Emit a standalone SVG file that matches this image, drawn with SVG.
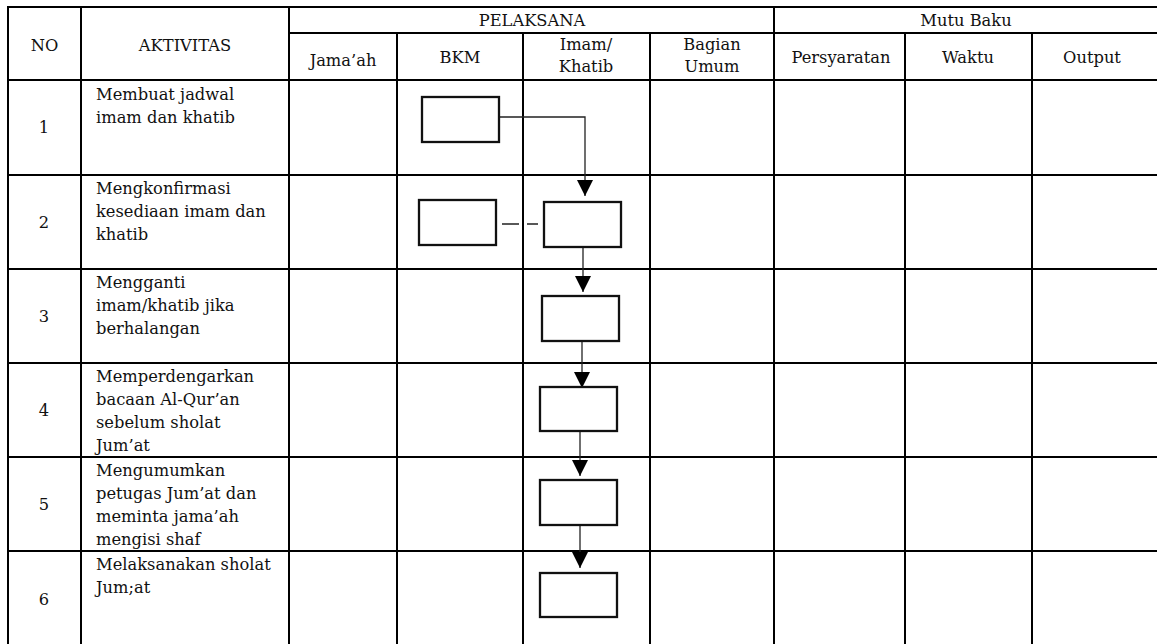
<svg xmlns="http://www.w3.org/2000/svg" width="1157" height="644" viewBox="0 0 1157 644">
  <style>
    .grid { stroke: #000; stroke-width: 2; fill: none; }
    .txt { font-family: "DejaVu Serif", "Liberation Serif", serif; font-size: 16.3px; fill: #111; }
    .c { text-anchor: middle; }
    .box { fill: #fff; stroke: #111; stroke-width: 2.3; }
    .conn { stroke: #222; stroke-width: 1.3; fill: none; }
  </style>
  <defs>
    <marker id="arrow" viewBox="0 0 16 16" refX="16" refY="8" markerWidth="16" markerHeight="16" markerUnits="userSpaceOnUse" orient="auto">
      <path d="M0,0 L16,8 L0,16 z" fill="#000"/>
    </marker>
  </defs>
  <rect width="1157" height="644" fill="#fff"/>

  <!-- table grid -->
  <g id="grid" class="grid">
    <line x1="7" y1="7" x2="1160" y2="7"/>
    <line x1="289" y1="33" x2="1160" y2="33"/>
    <line x1="7" y1="80" x2="1160" y2="80"/>
    <line x1="7" y1="175" x2="1160" y2="175"/>
    <line x1="7" y1="269" x2="1160" y2="269"/>
    <line x1="7" y1="363" x2="1160" y2="363"/>
    <line x1="7" y1="457" x2="1160" y2="457"/>
    <line x1="7" y1="551" x2="1160" y2="551"/>
    <line x1="8" y1="6" x2="8" y2="650"/>
    <line x1="81" y1="6" x2="81" y2="650"/>
    <line x1="289" y1="6" x2="289" y2="650"/>
    <line x1="397" y1="33" x2="397" y2="650"/>
    <line x1="523" y1="33" x2="523" y2="650"/>
    <line x1="650" y1="33" x2="650" y2="650"/>
    <line x1="774" y1="6" x2="774" y2="650"/>
    <line x1="905" y1="33" x2="905" y2="650"/>
    <line x1="1032" y1="33" x2="1032" y2="650"/>
  </g>

  <!-- header labels -->
  <g id="header" class="txt c">
    <text x="44.5" y="51">NO</text>
    <text x="185" y="51">AKTIVITAS</text>
    <text x="532" y="26">PELAKSANA</text>
    <text x="966" y="26">Mutu Baku</text>
    <text x="343" y="66">Jama’ah</text>
    <text x="460" y="63">BKM</text>
    <text x="586" y="50">Imam/</text>
    <text x="586" y="72">Khatib</text>
    <text x="712" y="50">Bagian</text>
    <text x="712" y="72">Umum</text>
    <text x="841" y="63">Persyaratan</text>
    <text x="968" y="63">Waktu</text>
    <text x="1092" y="63">Output</text>
  </g>

  <!-- row numbers -->
  <g id="numbers" class="txt c">
    <text x="44" y="133">1</text>
    <text x="44" y="228">2</text>
    <text x="44" y="322">3</text>
    <text x="44" y="416">4</text>
    <text x="44" y="510">5</text>
    <text x="44" y="605">6</text>
  </g>

  <!-- activity descriptions -->
  <g id="activities" class="txt">
    <text x="96" y="100"><tspan x="96">Membuat jadwal</tspan><tspan x="96" dy="23">imam dan khatib</tspan></text>
    <text x="96" y="194"><tspan x="96">Mengkonfirmasi</tspan><tspan x="96" dy="23">kesediaan imam dan</tspan><tspan x="96" dy="23">khatib</tspan></text>
    <text x="96" y="288"><tspan x="96">Mengganti</tspan><tspan x="96" dy="23">imam/khatib jika</tspan><tspan x="96" dy="23">berhalangan</tspan></text>
    <text x="96" y="382"><tspan x="96">Memperdengarkan</tspan><tspan x="96" dy="23">bacaan Al-Qur’an</tspan><tspan x="96" dy="23">sebelum sholat</tspan><tspan x="96" dy="23">Jum’at</tspan></text>
    <text x="96" y="476"><tspan x="96">Mengumumkan</tspan><tspan x="96" dy="23">petugas Jum’at dan</tspan><tspan x="96" dy="23">meminta jama’ah</tspan><tspan x="96" dy="23">mengisi shaf</tspan></text>
    <text x="96" y="570"><tspan x="96">Melaksanakan sholat</tspan><tspan x="96" dy="23">Jum;at</tspan></text>
  </g>

  <!-- connectors -->
  <g id="connectors">
    <polyline class="conn" points="499,117 585,117 585,196" marker-end="url(#arrow)"/>
    <line class="conn" x1="502" y1="224" x2="538" y2="224" stroke-width="2" stroke-dasharray="17,8"/>
    <line class="conn" x1="583" y1="247" x2="583" y2="292" marker-end="url(#arrow)"/>
    <line class="conn" x1="582" y1="341" x2="582" y2="388" marker-end="url(#arrow)"/>
    <line class="conn" x1="580" y1="431" x2="580" y2="476" marker-end="url(#arrow)"/>
    <line class="conn" x1="580" y1="522" x2="580" y2="568" marker-end="url(#arrow)"/>
  </g>

  <!-- process steps -->
  <g id="step1"><rect class="box" x="422" y="97" width="77" height="45"/></g>
  <g id="step2-bkm"><rect class="box" x="419" y="200" width="77" height="45"/></g>
  <g id="step2"><rect class="box" x="544" y="202" width="77" height="45"/></g>
  <g id="step3"><rect class="box" x="542" y="296" width="77" height="45"/></g>
  <g id="step4"><rect class="box" x="540" y="387" width="77" height="44"/></g>
  <g id="step5"><rect class="box" x="540" y="480" width="77" height="45"/></g>
  <g id="step6"><rect class="box" x="540" y="573" width="77" height="44"/></g>
</svg>
